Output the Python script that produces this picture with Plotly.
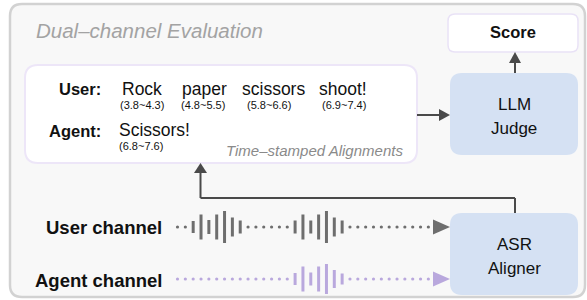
import plotly.graph_objects as go

# ---------------- data ----------------
user_words = ["Rock", "paper", "scissors", "shoot!"]
user_spans = ["(3.8~4.3)", "(4.8~5.5)", "(5.8~6.6)", "(6.9~7.4)"]
agent_words = ["Scissors!"]
agent_spans = ["(6.8~7.6)"]
# waveform amplitudes (px); 0 = silent dot
user_wave = [0, 0, 12, 25, 14, 25, 32, 19, 13, 0, 0, 0, 0, 0, 0,
             13, 25, 13, 25, 32, 19, 13, 0, 0, 0, 0, 0, 0, 0, 0, 0, 0, 0]
agent_wave = [0, 0, 0, 0, 0, 0, 0, 0, 0, 0, 0, 0, 0, 0, 0,
              12, 25, 13, 25, 30, 18, 11, 0, 0, 0, 0, 0, 0, 0, 0, 0, 0, 0]

# ---------------- layout constants ----------------
W, H = 587, 300
FONT = "Liberation Sans, Arial, sans-serif"
DARK = "#111111"
ARROW = "#4a4a4a"
USER_C = "#6e6e6e"
AGENT_C = "#b9a8dd"
BOX_BLUE = "#d5e1f3"

user_word_x = [142, 204, 273, 343]
user_span_x = [142, 203, 269, 344]
WAVE_X0, WAVE_STEP = 177.5, 7.84
USER_CY, AGENT_CY = 227, 279


def rrect(x0, y0, x1, y1, r):
    return (f"M{x0+r},{y0} L{x1-r},{y0} Q{x1},{y0} {x1},{y0+r} "
            f"L{x1},{y1-r} Q{x1},{y1} {x1-r},{y1} L{x0+r},{y1} "
            f"Q{x0},{y1} {x0},{y1-r} L{x0},{y0+r} Q{x0},{y0} {x0+r},{y0} Z")


shapes = []
ann = []


def box(x0, y0, x1, y1, r, fill, line_color=None, lw=0):
    shapes.append(dict(type="path", path=rrect(x0, y0, x1, y1, r), xref="x", yref="y",
                       fillcolor=fill, line=dict(color=line_color or fill, width=lw),
                       layer="below"))


def text(x, y, s, size, color=DARK, bold=False, italic=False, anchor="center"):
    ann.append(dict(x=x, y=y, xref="x", yref="y", text=s, showarrow=False,
                    xanchor=anchor, yanchor="middle", borderpad=0,
                    font=dict(family=FONT, size=size, color=color,
                              weight="bold" if bold else "normal",
                              style="italic" if italic else "normal")))


def line(x0, y0, x1, y1, color=ARROW, w=2):
    shapes.append(dict(type="line", x0=x0, y0=y0, x1=x1, y1=y1, xref="x", yref="y",
                       line=dict(color=color, width=w)))


def tri(path, color):
    shapes.append(dict(type="path", path=path, xref="x", yref="y",
                       fillcolor=color, line=dict(color=color, width=0)))


# outer frame
box(10, 4, 585, 297, 12, "#f8f8f8", "#d2d2d2", 2.5)
text(35, 30, "Dual\u2013channel Evaluation", 20.5, "#a3a3a3", italic=True, anchor="left")

# score box
box(448, 14, 578, 52, 7, "#ffffff", "#e9e2f6", 1.5)
text(513, 32, "Score", 16.5, bold=True)

# alignment box
box(25, 65, 417, 163, 13, "#ffffff", "#ede6f8", 2)
text(102, 89, "User:", 16.5, bold=True, anchor="right")
text(102, 131, "Agent:", 16.5, bold=True, anchor="right")
for w, sx, sp, tx in zip(user_words, user_word_x, user_spans, user_span_x):
    text(sx, 89, w, 17.5)
    text(tx, 105, sp, 11)
for w, sp in zip(agent_words, agent_spans):
    text(118, 130, w, 17.5, anchor="left")
    text(118, 146, sp, 11, anchor="left")
text(404, 150, "Time\u2013stamped Alignments", 15, "#8a8a8a", italic=True, anchor="right")

# LLM Judge box
box(450, 73, 578, 155, 12, BOX_BLUE)
text(514, 104, "LLM", 17)
text(514, 128, "Judge", 17)

# ASR box
box(450, 213, 578, 295, 12, BOX_BLUE)
text(514, 244, "ASR", 17)
text(514, 268, "Aligner", 17)

# arrows
line(417, 115, 440, 115)
tri("M439,109 L450,115 L439,121 Z", ARROW)
line(515, 73, 515, 62)
tri("M509,63 L515,52 L521,63 Z", ARROW)
line(515, 213, 515, 198)
line(515, 198, 200.5, 198)
line(200.5, 198, 200.5, 172)
tri("M194,173 L200.5,163 L207,173 Z", ARROW)

# channel labels
text(163, 227, "User channel", 18.5, bold=True, anchor="right")
text(163, 280, "Agent channel", 18.5, bold=True, anchor="right")

fig = go.Figure()


def wave(amps, cy, color):
    bx, by, dx, dy = [], [], [], []
    for i, a in enumerate(amps):
        x = WAVE_X0 + i * WAVE_STEP
        if a > 0:
            bx += [x, x, None]
            by += [cy - a / 2, cy + a / 2, None]
        else:
            dx.append(x)
            dy.append(cy)
    fig.add_trace(go.Scatter(x=bx, y=by, mode="lines", line=dict(color=color, width=3),
                             hoverinfo="skip", showlegend=False))
    fig.add_trace(go.Scatter(x=dx, y=dy, mode="markers",
                             marker=dict(color=color, size=3.2, line=dict(width=0)),
                             hoverinfo="skip", showlegend=False))
    tri(f"M433,{cy-7.5} L450,{cy} L433,{cy+7.5} Z", color)


wave(user_wave, USER_CY, USER_C)
wave(agent_wave, AGENT_CY, AGENT_C)

fig.update_layout(
    width=W, height=H, margin=dict(l=0, r=0, t=0, b=0),
    paper_bgcolor="#ffffff", plot_bgcolor="#ffffff",
    xaxis=dict(range=[0, W], visible=False, fixedrange=True),
    yaxis=dict(range=[H, 0], visible=False, fixedrange=True),
    shapes=shapes, annotations=ann, showlegend=False,
)
fig.write_html("out.html", config={"displayModeBar": False},
               post_script="document.body.style.margin='0';document.body.style.overflow='hidden';")
